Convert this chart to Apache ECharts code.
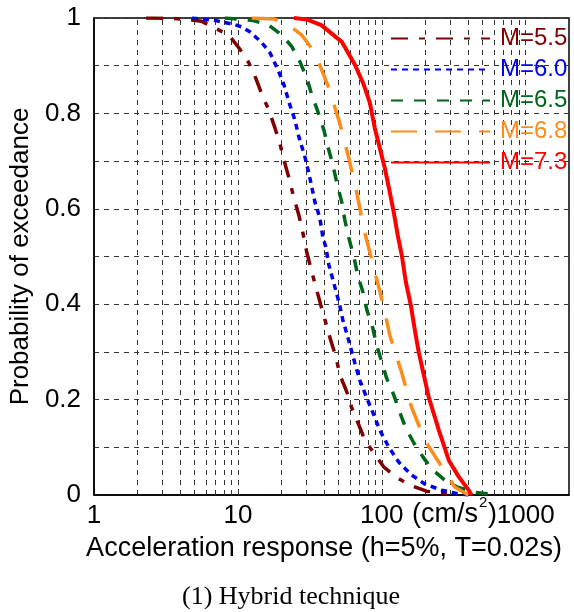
<!DOCTYPE html>
<html>
<head>
<meta charset="utf-8">
<script src="https://cdn.jsdelivr.net/npm/echarts@6/dist/echarts.min.js"></script>
<style>
html,body{margin:0;padding:0;background:#fff;}
#c{width:574px;height:612px;}
</style>
</head>
<body>
<div id="c"></div>
<script>
// ---- data ----
const names = ['M=5.5', 'M=6.0', 'M=6.5', 'M=6.8', 'M=7.3'];

const m55x = [2.3, 3.5, 4.8, 5.6, 6.9, 8.66, 10.3, 11.9, 13.3, 14.7, 16.4, 18.1, 19.6, 20.9, 22.6, 24.5, 26.5, 28.3, 30.1, 32.1, 34.8, 37.7, 40.8, 43.5, 48, 51.1, 57.1, 61.9, 69.2, 76.2, 88, 103, 125, 156, 205, 274, 330];
const m55p = [1, 0.999, 0.996, 0.993, 0.979, 0.964, 0.935, 0.906, 0.874, 0.839, 0.807, 0.769, 0.736, 0.702, 0.665, 0.623, 0.587, 0.549, 0.509, 0.476, 0.436, 0.398, 0.361, 0.331, 0.289, 0.252, 0.216, 0.182, 0.147, 0.115, 0.088, 0.059, 0.038, 0.021, 0.008, 0.003, 0];

const m60x = [4.8, 6.9, 9.5, 10.7, 12.1, 14.5, 16.7, 19, 20.9, 22.6, 24.9, 26.5, 29.2, 31.1, 34.3, 37.1, 38.9, 40.8, 42.9, 46.4, 50.3, 53.6, 58, 64.9, 70.3, 78.7, 88, 96.8, 112, 131, 161, 199, 261, 347, 400];
const m60p = [1, 0.995, 0.986, 0.981, 0.971, 0.95, 0.927, 0.891, 0.86, 0.824, 0.786, 0.751, 0.709, 0.675, 0.614, 0.581, 0.541, 0.52, 0.482, 0.444, 0.405, 0.367, 0.331, 0.277, 0.241, 0.203, 0.168, 0.136, 0.1, 0.069, 0.042, 0.023, 0.01, 0.002, 0];

const m65x = [8.1, 12.6, 16.4, 20.2, 23.7, 27, 30.1, 32.6, 36, 39.6, 42.2, 45.7, 48.7, 52.7, 55.3, 59, 64, 68, 73.8, 78.7, 86.6, 92, 100, 108, 121, 133, 147, 167, 193, 222, 274, 332, 450, 650];
const m65p = [1, 0.995, 0.985, 0.964, 0.94, 0.908, 0.874, 0.839, 0.803, 0.765, 0.73, 0.692, 0.654, 0.614, 0.577, 0.539, 0.499, 0.461, 0.426, 0.388, 0.35, 0.314, 0.279, 0.245, 0.21, 0.174, 0.14, 0.109, 0.08, 0.055, 0.031, 0.017, 0.005, 0];

const m68x = [12.5, 17.8, 22.6, 27.8, 34.3, 42.9, 51.5, 59, 67, 76, 88, 102, 113.6, 137.6, 161, 199, 261, 321, 400];
const m68p = [1, 0.998, 0.985, 0.964, 0.927, 0.853, 0.775, 0.706, 0.633, 0.551, 0.476, 0.4, 0.335, 0.256, 0.184, 0.115, 0.059, 0.017, 0];

const m73x = [24.5, 30, 38, 52.7, 65, 75, 82.6, 89.4, 96.9, 105, 113.6, 121, 129, 137.6, 146.8, 159, 172, 181, 212, 249, 292, 343, 402, 420];
const m73p = [1, 0.997, 0.985, 0.95, 0.902, 0.86, 0.822, 0.769, 0.727, 0.685, 0.635, 0.593, 0.545, 0.503, 0.447, 0.398, 0.335, 0.298, 0.205, 0.136, 0.073, 0.038, 0.01, 0];

const xTickLabels = [1, 10, 100, 1000];
const yTickLabels = [0, 0.2, 0.4, 0.6, 0.8, 1];
const vGridValues = [2, 3, 4, 5, 6, 7, 8, 9, 10, 20, 30, 40, 50, 60, 70, 80, 90, 100, 200, 300, 400, 500, 600, 700, 800, 900, 1000];

// ---- styling ----
const colors = ['#7f0000', '#0000ee', '#00661a', '#ff8c1a', '#ff0000'];
const dashes = [[17, 11, 6, 11], [6, 5], [12, 11], [26, 18], 'solid'];
const widths = [3.5, 3.5, 3.5, 3.5, 4];
const xs = [m55x, m60x, m65x, m68x, m73x];
const ps = [m55p, m60p, m65p, m68p, m73p];
const FONT = '"Liberation Sans", Arial, sans-serif';

const series = names.map((n, i) => ({
  name: n,
  type: 'line',
  data: xs[i].map((x, j) => [x, ps[i][j]]),
  symbol: 'none',
  showSymbol: false,
  z: 3,
  lineStyle: { color: colors[i], width: widths[i], type: dashes[i] },
  itemStyle: { color: colors[i] }
}));

series.unshift({
  name: 'gridlines',
  type: 'line',
  data: [],
  z: 1,
  markLine: {
    silent: true,
    symbol: 'none',
    z: 1,
    animation: false,
    label: { show: false },
    lineStyle: { color: '#333', type: [5, 5], width: 1 },
    data: vGridValues.map(v => ({ xAxis: v }))
  }
});

const chart = echarts.init(document.getElementById('c'), null, { renderer: 'canvas' });
chart.setOption({
  animation: false,
  backgroundColor: '#fff',
  grid: { left: 92, right: 5, top: 18, bottom: 117, show: true, borderColor: '#000', borderWidth: 1.5, backgroundColor: 'transparent' },
  legend: {
    orient: 'vertical',
    left: 390,
    top: 25.5,
    padding: 0,
    itemWidth: 99,
    itemHeight: 26,
    itemGap: 5,
    selectedMode: false,
    itemStyle: { opacity: 0, borderWidth: 0 },
    textStyle: { fontSize: 24, fontFamily: FONT, lineHeight: 26, padding: [0, 0, 0, 5] },
    data: names.map((n, i) => ({ name: n, textStyle: { color: colors[i] } }))
  },
  xAxis: {
    type: 'log',
    logBase: 10,
    min: 1,
    max: 2000,
    axisLine: { show: true, lineStyle: { color: '#000', width: 1.5 } },
    axisTick: { show: true, inside: true, length: 6, lineStyle: { color: '#000' } },
    splitLine: { show: false },
    axisLabel: {
      fontSize: 26, fontFamily: FONT, color: '#000', margin: 8,
      showMaxLabel: false,
      formatter: v => {
        const r = Math.round(v);
        return (Math.abs(v - r) < 1e-6 && xTickLabels.includes(r)) ? String(r) : '';
      }
    }
  },
  yAxis: {
    type: 'value',
    min: 0,
    max: 1,
    interval: 0.1,
    name: 'Probability of exceedance',
    nameLocation: 'middle',
    nameGap: 58,
    nameTextStyle: { fontSize: 26, fontFamily: FONT, color: '#000' },
    axisLine: { show: true, lineStyle: { color: '#000', width: 1.5 } },
    axisTick: { show: false },
    splitLine: { show: true, lineStyle: { color: '#333', type: [5, 5], width: 1 } },
    axisLabel: {
      fontSize: 26, fontFamily: FONT, color: '#000', margin: 13,
      formatter: v => {
        const r = Math.round(v * 10) / 10;
        return yTickLabels.some(t => Math.abs(t - r) < 1e-6) ? String(r) : '';
      }
    }
  },
  graphic: [
    { type: 'text', left: 412, top: 501, style: { text: '(cm/s', font: '27px ' + FONT, fill: '#000' } },
    { type: 'text', left: 479, top: 495, style: { text: '2', font: '15px ' + FONT, fill: '#000' } },
    { type: 'text', left: 488, top: 501, style: { text: ')', font: '27px ' + FONT, fill: '#000' } },
    { type: 'text', x: 324, y: 549, style: { text: 'Acceleration response (h=5%, T=0.02s)', font: '27px ' + FONT, fill: '#000', textAlign: 'center', textVerticalAlign: 'middle' } },
    { type: 'text', x: 291, y: 597, style: { text: '(1) Hybrid technique', font: '26px "Liberation Serif", "Times New Roman", serif', fill: '#000', textAlign: 'center', textVerticalAlign: 'middle' } }
  ],
  series: series
});
</script>
</body>
</html>
